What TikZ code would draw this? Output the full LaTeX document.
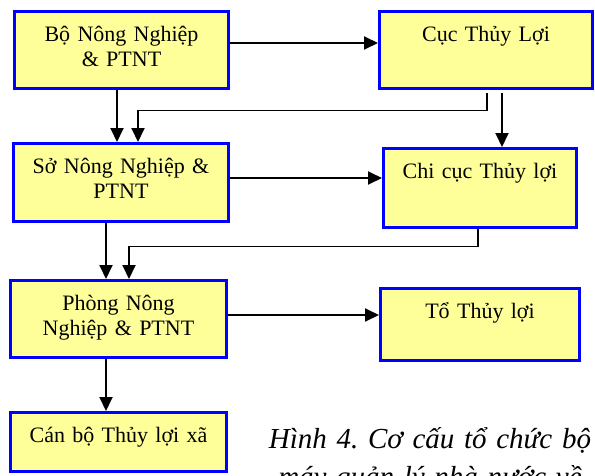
\documentclass[tikz,border=0pt]{standalone}
\usepackage{fontspec}
\setmainfont{Liberation Serif}
\usetikzlibrary{arrows.meta}
\definecolor{boxfill}{RGB}{255,255,153}
\definecolor{boxline}{RGB}{0,0,255}
\frenchspacing
\begin{document}
\begin{tikzpicture}[x=1pt,y=-1pt,
  orgbox/.style={draw=boxline, line width=3pt, fill=boxfill, inner sep=0pt,
    align=center, font=\fontsize{22}{25}\selectfont, text height=29.5pt},
  conn/.style={line width=1.9pt, -{Triangle[length=14pt,width=13pt]}}]
\useasboundingbox (0,0) rectangle (595,475);
\clip (0,0) rectangle (595,475);

% boxes: centre, width, height
\node[orgbox, text width=214pt, text depth=47.5pt] (b1) at (121.5,50) {Bộ Nông Nghiệp\\\& PTNT};
\node[orgbox, text width=213pt, text depth=47.5pt] (b2) at (486,50) {Cục Thủy Lợi};
\node[orgbox, text width=215pt, text depth=48.5pt] (b3) at (121,182.5) {Sở Nông Nghiệp \&\\PTNT};
\node[orgbox, text width=193pt, text depth=49.5pt] (b4) at (480,188) {Chi cục Thủy lợi};
\node[orgbox, text width=216pt, text depth=47.5pt] (b5) at (118.5,319) {Phòng Nông\\Nghiệp \& PTNT};
\node[orgbox, text width=199pt, text depth=42.5pt] (b6) at (480,324.5) {Tổ Thủy lợi};
\node[orgbox, text width=216pt, text depth=29pt] (b7) at (118.5,441.75) {Cán bộ Thủy lợi xã};

% caption (its second line runs past the lower edge)
\node[anchor=base, inner sep=0pt, text width=360pt, align=center,
  font=\fontsize{29}{38}\selectfont\itshape] (cap) at (430,448)
  {Hình 4. Cơ cấu tổ chức bộ\\máy quản lý nhà nước về};

% connectors
\draw[conn] ([yshift=7pt]b1.east) -- ([yshift=7pt]b1.east -| b2.west);
\draw[conn] ([xshift=-4.5pt]b1.south) -- ([xshift=-4.5pt]b1.south |- b3.north);
\draw[conn] ([xshift=1pt,yshift=-3pt]b2.south) |- ([xshift=17pt,yshift=31.5pt]b3.north) -- ([xshift=17pt]b3.north);
\draw[conn] ([xshift=16pt,yshift=-3pt]b2.south) -- ([xshift=16pt]b2.south |- b4.north);
\draw[conn] ([yshift=4.5pt]b3.east) -- ([yshift=4.5pt]b3.east -| b4.west);
\draw[conn] ([xshift=-15pt]b3.south) -- ([xshift=-15pt]b3.south |- b5.north);
\draw[conn] ([xshift=-2pt]b4.south) |- ([xshift=10.5pt,yshift=32.5pt]b5.north) -- ([xshift=10.5pt]b5.north);
\draw[conn] ([yshift=4pt]b5.east) -- ([yshift=4pt]b5.east -| b6.west);
\draw[conn] ([xshift=-12.5pt]b5.south) -- ([xshift=-12.5pt]b5.south |- b7.north);
\end{tikzpicture}
\end{document}
